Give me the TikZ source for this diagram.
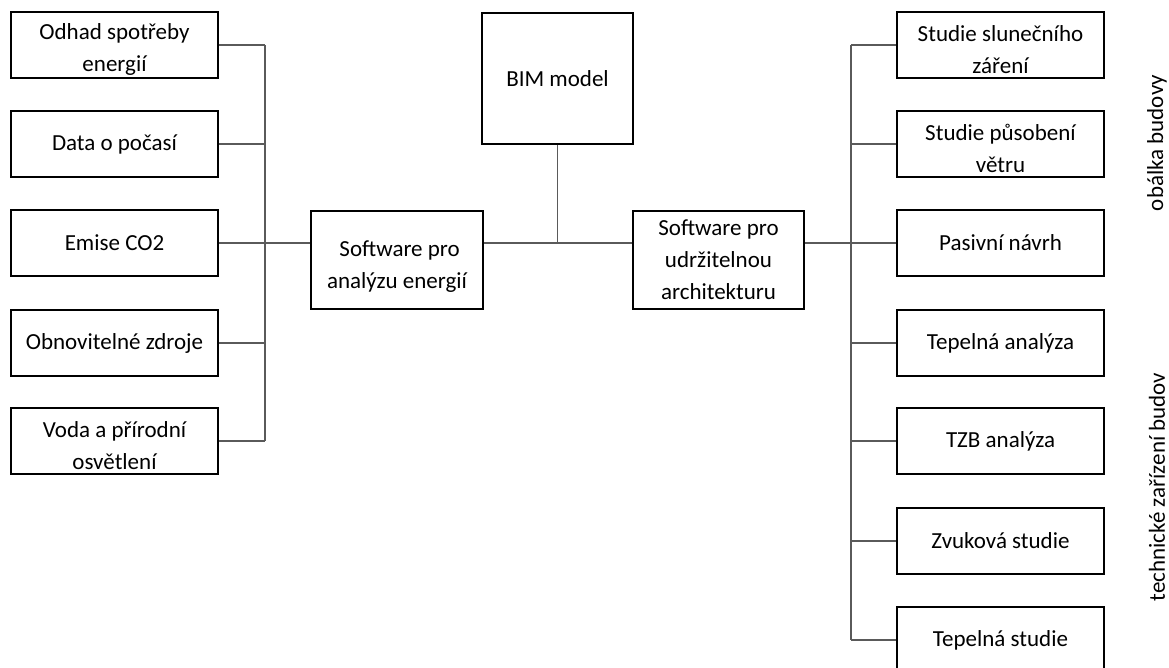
\documentclass[tikz,border=0pt]{standalone}
\usepackage{fontspec}
\setmainfont{Carlito}
\usepackage{tikz}
\usepackage{xcolor}
\definecolor{linegray}{HTML}{5A5A5A}
\newcommand{\topgap}[1][25pt]{\rule{0pt}{#1}}

\begin{document}
\begin{tikzpicture}[x=1pt, y=-1pt,
		box/.style={draw=black, line width=2pt, fill=white, align=center, inner sep=0pt,
			font=\fontsize{23}{32}\selectfont},
		sidebox/.style={box, minimum width=207pt, minimum height=66pt},
		link/.style={draw=linegray, line width=1.4pt},
		sidelabel/.style={rotate=90, inner sep=0pt, font=\fontsize{23}{32}\selectfont}]

		\useasboundingbox (0,0) rectangle (1169,667);

		% Left column: energy analysis inputs
		\node[sidebox] (odhad) at (114.5,45) {\topgap Odhad spotřeby\\energií};
		\node[sidebox] (pocasi) at (114.5,144) {Data o počasí};
		\node[sidebox] (emise) at (114.5,243) {Emise CO2};
		\node[sidebox] (zdroje) at (114.5,343) {Obnovitelné zdroje};
		\node[sidebox] (voda) at (114.5,441) {\topgap Voda a přírodní\\osvětlení};

		% Middle: the two software boxes and the BIM model
		\node[box, minimum width=172pt, minimum height=98pt] (energie) at (397,260) {\topgap[29pt] Software pro\\analýzu energií};
		\node[box, minimum width=151pt, minimum height=131pt] (bim) at (557.5,78.5) {BIM model};
		\node[box, minimum width=171pt, minimum height=98pt] (udrz) at (718.5,260) {Software pro\\udržitelnou\\architekturu};

		% Right column: sustainable architecture studies
		\node[sidebox] (slunce) at (1000.5,45) {\topgap Studie slunečního\\záření};
		\node[sidebox] (vitr) at (1000.5,144) {\topgap Studie působení\\větru};
		\node[sidebox] (pasiv) at (1000.5,243) {Pasivní návrh};
		\node[sidebox] (tepan) at (1000.5,343) {Tepelná analýza};
		\node[sidebox] (tzb) at (1000.5,441) {TZB analýza};
		\node[sidebox] (zvuk) at (1000.5,541) {Zvuková studie};
		\node[sidebox] (tepst) at (1000.5,640) {Tepelná studie};

		% Group labels on the right edge
		\node[sidelabel] (obalka) at (1157,143) {obálka budovy};
		\node[sidelabel] (zarizeni) at (1157,487) {technické zařízení budov};

		% Bus lines
		\coordinate (lbus) at (265,0);
		\coordinate (rbus) at (851,0);
		\coordinate (hub) at (bim.south |- emise.east);

		% Left column to its bus
		\draw[link] (odhad.east) -- (odhad.east -| lbus);
		\draw[link] (pocasi.east) -- (pocasi.east -| lbus);
		\draw[link] (zdroje.east) -- (zdroje.east -| lbus);
		\draw[link] (voda.east) -- (voda.east -| lbus);
		\draw[link] (odhad.east -| lbus) -- (voda.east -| lbus);
		\draw[link] (emise.east) -- (emise.east -| energie.west);

		% BIM model to both software boxes
		\draw[link] (bim.south) -- (hub);
		\draw[link] (energie.east |- hub) -- (udrz.west |- hub);
		\draw[link] (udrz.east |- hub) -- (pasiv.west);

		% Right bus to the studies
		\draw[link] (slunce.west -| rbus) -- (tepst.west -| rbus);
		\draw[link] (slunce.west -| rbus) -- (slunce.west);
		\draw[link] (vitr.west -| rbus) -- (vitr.west);
		\draw[link] (tepan.west -| rbus) -- (tepan.west);
		\draw[link] (tzb.west -| rbus) -- (tzb.west);
		\draw[link] (zvuk.west -| rbus) -- (zvuk.west);
		\draw[link] (tepst.west -| rbus) -- (tepst.west);
	\end{tikzpicture}
\end{document}
